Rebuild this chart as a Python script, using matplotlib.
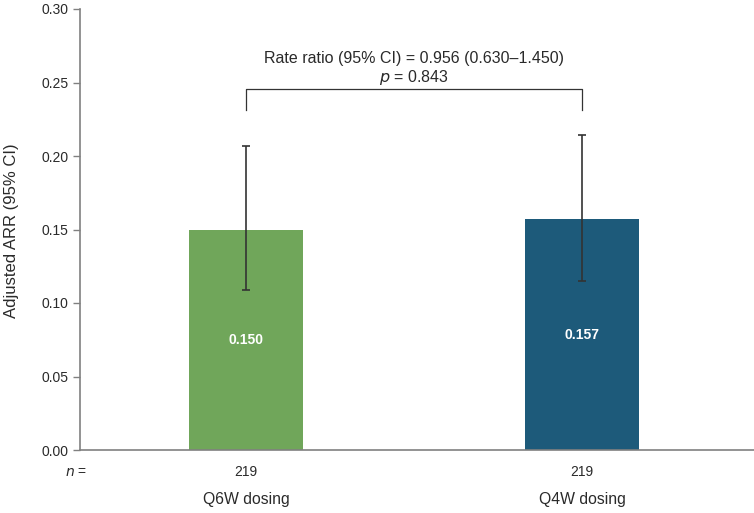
import matplotlib.pyplot as plt
import numpy as np

plt.rcParams['font.family'] = ['Liberation Sans', 'DejaVu Sans']

# datos del gráfico
grupos = ['Q6W dosing', 'Q4W dosing']
n_pacientes = [219, 219]
arr = [0.150, 0.157]
ic_inf = [0.109, 0.115]
ic_sup = [0.207, 0.214]
colores = ['#70A65A', '#1D5A7A']
texto_ratio = 'Rate ratio (95% CI) = 0.956 (0.630\u20131.450)'
texto_p = '$\\it{p}$ = 0.843'

fig = plt.figure(figsize=(7.54, 5.13), dpi=100)
ax = fig.add_axes([80 / 754, 1 - 450 / 513, 674 / 754, 441 / 513])

x = np.arange(len(grupos))
err = [np.array(arr) - np.array(ic_inf), np.array(ic_sup) - np.array(arr)]
ax.bar(x, arr, width=0.342, color=colores, zorder=2)
ax.errorbar(x, arr, yerr=err, fmt='none', ecolor='#333333', elinewidth=1.2,
            capsize=3, capthick=1.2, zorder=3)

# etiquetas dentro de las barras
for xi, v in zip(x, arr):
    ax.text(xi, v / 2, f'{v:.3f}', ha='center', va='center', color='white',
            fontsize=10, fontweight='bold')

# corchete de comparación
y_br = 0.2455
y_pie = 0.231
ax.plot([x[0], x[0], x[1], x[1]], [y_pie, y_br, y_br, y_pie], color='#333333', lw=0.9)
ax.text(np.mean(x), 0.2665, texto_ratio, ha='center', va='center', fontsize=11.5, color='#2a2a2a')
ax.text(np.mean(x), 0.2535, texto_p, ha='center', va='center', fontsize=11.5, color='#2a2a2a')

ax.set_xlim(-0.494, 1.512)
ax.set_ylim(0, 0.30)
ax.set_yticks(np.arange(0, 0.31, 0.05))
ax.set_yticklabels([f'{t:.2f}' for t in np.arange(0, 0.31, 0.05)])
ax.set_xticks([])
ax.tick_params(axis='y', labelsize=10, colors='#808080', labelcolor='#2a2a2a', length=5, width=1)
ax.set_ylabel('Adjusted ARR (95% CI)', fontsize=12, color='#2a2a2a')
ax.yaxis.set_label_coords(-61 / 674, 0.5 - (231 - 229.5) / 441)

for s in ['top', 'right']:
    ax.spines[s].set_visible(False)
for s in ['left', 'bottom']:
    ax.spines[s].set_color('#808080')
    ax.spines[s].set_linewidth(1.2)

# fila de n y nombres de grupo
ax.text(-0.506, -0.015, '$\\it{n}$ =', ha='center', va='center', fontsize=10, color='#2a2a2a')
for xi, n, g in zip(x, n_pacientes, grupos):
    ax.text(xi, -0.015, str(n), ha='center', va='center', fontsize=10, color='#2a2a2a')
    ax.text(xi, -0.0340, g, ha='center', va='center', fontsize=11.3, color='#2a2a2a')

fig.savefig('out.png', dpi=100)
